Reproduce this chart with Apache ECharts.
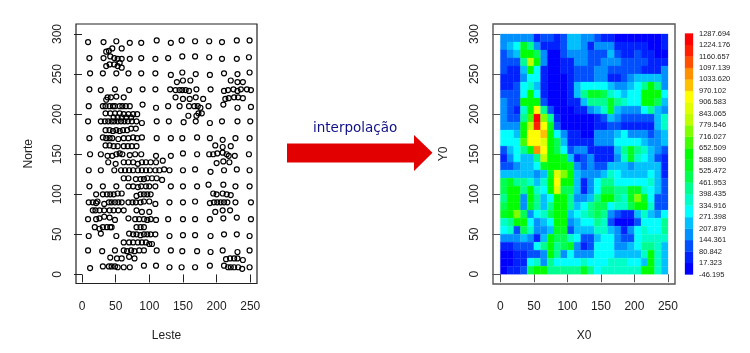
<!DOCTYPE html>
<html>
<head>
<meta charset="utf-8">
<script src="https://cdn.jsdelivr.net/npm/echarts@6/dist/echarts.min.js"></script>
<style>
html, body { margin: 0; padding: 0; background: #fff; }
#chart { width: 750px; height: 353px; }
</style>
</head>
<body>
<div id="chart"></div>
<script>
// pontos amostrados: [leste, norte]
var pontos = [
    [9,290],[32,290],[51,291],[71,289],[88,289],[111,292],[132,289],[148,292],[168,291],[189,291],[208,290],[230,292],[249,292],
    [59,282],[45,282],[40,279],[36,278],
    [11,270],[32,270],[42,272],[48,270],[53,269],[59,269],[56,264],[71,269],[88,270],[109,269],[128,270],[149,272],[168,272],[189,271],[208,269],[230,269],[248,271],
    [36,260],[41,262],[48,262],[53,260],[59,258],
    [12,251],[31,251],[51,251],[69,251],[88,251],[109,251],[132,249],[149,252],[169,250],[190,249],[211,251],[231,250],[249,252],
    [141,240],[150,242],[161,242],[221,242],[231,240],[239,240],
    [11,231],[28,230],[49,231],[70,230],[90,231],[109,231],[131,231],[139,230],[145,230],[149,230],[154,230],[159,229],[170,231],[191,231],[211,229],[217,230],[225,231],[231,229],[236,231],[245,231],[251,230],
    [139,221],[150,219],[160,219],[169,221],[180,219],[213,219],[218,220],[226,221],[232,221],[239,220],
    [36,218],[38,221],[43,221],[51,222],[62,221],
    [10,210],[31,210],[35,210],[41,210],[46,210],[49,210],[56,210],[60,210],[65,210],[71,210],[90,212],[110,208],[128,210],[145,210],[159,210],[167,210],[172,210],[176,208],[188,210],[210,212],[231,208],[251,209],
    [35,201],[42,201],[49,201],[56,201],[62,200],[69,200],[76,200],[82,200],[47,196],[53,196],[59,196],[66,196],[73,196],
    [173,201],[178,201],[158,198],[170,198],
    [9,191],[28,191],[34,191],[39,191],[44,191],[48,191],[53,191],[58,191],[63,191],[68,191],[74,191],[81,191],[89,189],[111,191],[129,191],[151,190],[169,191],[190,189],[208,191],[231,191],[250,191],
    [35,180],[41,180],[46,179],[51,180],[56,179],[61,180],[67,180],[73,182],[80,182],
    [11,170],[31,171],[36,170],[41,170],[45,170],[54,169],[62,170],[69,170],[76,171],[82,170],[89,171],[111,170],[132,170],[149,170],[171,171],[190,170],[209,168],[228,170],[249,170],
    [35,161],[41,161],[47,160],[53,160],[62,160],[68,160],[74,160],[81,160],[198,161],[209,159],[221,160],
    [12,150],[28,150],[38,148],[45,148],[51,150],[56,151],[60,150],[71,149],[79,150],[88,150],[110,148],[132,148],[150,151],[171,150],[189,150],[195,150],[201,151],[209,152],[215,150],[218,148],[227,148],[248,150],
    [39,140],[50,138],[62,140],[69,140],[76,140],[83,138],[89,140],[95,140],[102,140],[110,140],[120,142],[200,139],[210,141],[219,140],
    [10,130],[28,130],[48,130],[58,130],[64,130],[70,130],[76,130],[83,130],[89,130],[95,130],[101,130],[109,130],[115,130],[122,131],[130,130],[150,130],[168,131],[191,128],[211,130],[230,131],[249,130],
    [62,120],[69,120],[80,119],[87,119],[92,119],[97,120],[104,120],[111,120],[119,118],
    [11,110],[31,110],[51,110],[69,110],[76,110],[83,109],[88,110],[95,110],[100,110],[109,110],[132,110],[150,110],[171,110],[188,112],[210,112],[228,110],[249,110],
    [21,100],[31,100],[37,100],[42,100],[47,100],[53,101],[59,101],[81,98],[87,100],[92,100],[97,100],[102,100],[195,101],[200,100],[209,101],[215,100],[221,99],
    [10,90],[16,90],[23,91],[21,89],[33,88],[40,90],[44,90],[49,90],[54,90],[59,90],[69,90],[75,90],[80,90],[87,90],[92,91],[100,91],[109,88],[130,90],[150,90],[168,91],[190,89],[196,90],[201,90],[206,90],[211,90],[216,90],[228,90],[251,90],
    [16,80],[20,80],[26,80],[33,80],[41,80],[47,80],[54,80],[62,80],[81,80],[89,78],[100,78],[198,78],[209,80],[220,80],
    [9,69],[21,69],[26,70],[33,72],[41,71],[49,68],[69,70],[79,69],[85,69],[92,69],[97,68],[102,69],[110,68],[128,69],[150,69],[168,69],[190,69],[210,70],[230,71],[251,69],
    [19,59],[26,57],[31,59],[37,59],[42,59],[44,59],[81,59],[87,59],[92,59],
    [10,48],[28,51],[51,48],[70,51],[76,50],[81,50],[87,49],[92,50],[97,50],[102,50],[109,50],[130,48],[150,49],[168,49],[191,48],[211,50],[230,50],[249,48],
    [62,40],[70,40],[76,40],[83,40],[89,40],[95,40],[100,38],[104,38],
    [9,30],[30,29],[49,30],[62,30],[67,29],[73,30],[78,29],[85,30],[92,30],[111,30],[132,30],[149,29],[171,29],[191,28],[209,30],[231,28],[249,30],
    [42,21],[52,20],[59,20],[70,22],[78,20],[214,19],[220,20],[226,20],[231,20],[239,18],
    [12,8],[31,10],[40,10],[44,10],[49,10],[53,9],[62,9],[71,9],[92,11],[110,11],[130,9],[148,9],[168,9],[190,11],[211,11],[217,9],[221,9],[226,9],[232,9],[238,7],[249,9]
];

// classe da legenda de cada celula, da linha de cima (Y0 290-300) para a de baixo
var faixas = [
    [3,3,3,3,3,1,2,2,1,2,4,4,3,3,2,1,1,0,0,0,0,0,0,0,1],
    [3,4,5,9,7,3,1,1,1,2,4,4,3,1,3,3,3,1,1,1,1,1,0,0,1],
    [2,3,4,10,10,8,3,0,0,2,3,3,3,2,2,2,4,2,1,1,2,1,1,0,0],
    [2,2,2,7,13,10,3,0,0,1,1,3,3,2,2,3,3,3,2,2,2,2,1,1,1],
    [2,1,1,4,10,5,1,0,0,1,1,2,2,2,3,3,2,2,2,2,2,1,1,1,3],
    [1,1,1,3,5,5,1,0,0,0,1,2,2,2,3,3,1,1,2,3,4,4,4,4,3],
    [1,1,2,5,6,4,1,0,0,0,1,4,5,5,5,5,4,3,3,4,5,7,10,7,3],
    [2,2,2,5,10,5,1,0,0,0,1,4,7,9,9,8,6,5,4,5,5,10,10,10,5],
    [3,2,2,10,10,10,2,0,0,0,1,1,4,7,7,7,9,7,6,5,5,10,10,8,4],
    [3,2,1,6,10,15,7,2,0,0,0,1,1,3,4,6,9,4,3,3,3,5,7,4,3],
    [3,2,2,7,11,20,12,7,1,0,0,0,0,0,1,2,4,3,2,2,2,2,2,4,6],
    [3,3,3,10,13,19,15,9,2,0,0,0,0,0,1,1,2,2,1,1,1,1,1,4,6],
    [5,5,4,10,15,15,16,10,5,3,1,1,0,0,3,3,3,4,5,3,3,3,2,3,4],
    [5,5,5,11,15,15,14,10,8,4,1,1,1,1,3,3,3,5,5,5,5,4,3,3,4],
    [2,4,5,7,10,17,15,10,8,5,2,3,3,1,1,1,1,4,7,9,7,6,4,3,2],
    [1,3,5,4,4,7,13,10,10,9,4,1,2,3,1,1,1,3,6,9,6,5,4,2,1],
    [2,2,3,4,4,5,9,10,10,10,9,3,2,3,2,2,4,4,4,3,4,4,4,4,1],
    [4,4,4,4,4,3,4,9,14,12,10,4,3,3,3,4,6,5,4,4,4,4,5,4,1],
    [8,9,7,7,6,4,6,10,15,10,10,4,1,3,5,7,7,5,5,5,5,5,6,4,2],
    [8,10,10,7,10,6,5,10,14,8,8,4,1,3,5,8,8,7,7,9,9,6,5,4,2],
    [7,10,10,3,10,7,4,5,10,10,7,3,3,4,7,10,10,7,6,9,12,9,5,2,2],
    [8,10,10,3,9,7,4,7,10,10,7,4,5,7,8,8,5,6,6,8,10,10,6,2,2],
    [9,10,12,8,3,5,6,8,10,10,4,5,6,7,8,7,3,2,1,1,4,6,4,3,5],
    [6,7,10,10,5,3,4,5,10,10,3,4,5,5,7,6,2,0,0,0,2,5,5,5,7],
    [5,6,2,8,6,3,3,4,9,9,2,4,4,4,6,6,4,3,1,3,5,6,5,5,7],
    [3,3,3,4,3,1,4,10,8,8,6,5,2,2,4,5,5,3,2,2,5,6,6,6,6],
    [1,1,2,2,2,5,7,10,7,8,9,3,1,2,5,5,5,3,3,4,5,7,7,6,4],
    [0,0,1,1,2,2,3,10,7,3,5,3,3,3,5,5,5,4,4,4,4,6,10,6,4],
    [0,0,1,1,5,6,3,7,5,5,5,5,6,5,5,5,6,6,6,5,5,4,10,6,4],
    [0,1,1,2,8,10,10,7,7,7,7,7,9,7,5,6,6,6,6,6,6,10,10,6,4]
];

// limites da legenda, de baixo para cima
var limites = [-46.195,17.323,80.842,144.361,207.879,271.398,334.916,398.435,461.953,525.472,588.990,652.509,716.027,779.546,843.065,906.583,970.102,1033.620,1097.139,1160.657,1224.176,1287.694];
var cores = ['#0000ff','#0022ff','#0050ff','#0090ff','#00c0ff','#00ffff','#00ffc8','#00ff90','#00ff50','#00ff20','#00ff00','#40ff00','#80ff00','#bfff00','#e0ff00','#ffff00','#ffc000','#ff9000','#ff5000','#ff2000','#ff0000'];

var ticksLeste = [0,50,100,150,200,250];
var ticksNorte = [0,50,100,150,200,250,300];

var dadosGrade = [];
for (var i = 0; i < faixas.length; i++) {
    for (var j = 0; j < faixas[i].length; j++) {
        dadosGrade.push([j * 10, (faixas.length - 1 - i) * 10, faixas[i][j]]);
    }
}
var dadosLegenda = [];
for (var k = 0; k < cores.length; k++) {
    dadosLegenda.push([limites[k], limites[k + 1], k]);
}

function eixo(grade, nome, ticks, min, max, vertical, corTick, gap) {
    return {
        gridIndex: grade,
        type: 'value', name: nome, nameLocation: 'middle', nameGap: gap,
        nameRotate: vertical ? 90 : 0,
        nameTextStyle: { color: '#222', fontSize: 12, fontFamily: 'Liberation Sans' },
        min: min, max: max, splitLine: { show: false }, axisLine: { show: false },
        axisTick: { length: 8, customValues: ticks, lineStyle: { color: corTick, width: 1 } },
        axisLabel: {
            customValues: ticks, rotate: vertical ? 90 : 0, margin: vertical ? 12 : 17,
            color: '#222', fontSize: 12, fontFamily: 'Liberation Sans'
        }
    };
}

var chart = echarts.init(document.getElementById('chart'), null, { renderer: 'canvas' });
chart.setOption({
    animation: false,
    backgroundColor: '#fff',
    grid: [
        { left: 76, top: 24, width: 181, height: 259.5, show: true, borderColor: '#222', borderWidth: 1.2, backgroundColor: '#fff' },
        { left: 493, top: 24, width: 182, height: 260, show: true, borderColor: '#555', borderWidth: 1.4, backgroundColor: '#fff' },
        { left: 685, top: 33.5, width: 8, height: 241 }
    ],
    xAxis: [
        eixo(0, 'Leste', ticksLeste, -8.9, 260, false, '#222', 46),
        eixo(1, 'X0', ticksLeste, -11, 260.5, false, '#555', 46),
        { gridIndex: 2, type: 'value', min: 0, max: 1, show: false }
    ],
    yAxis: [
        eixo(0, 'Norte', ticksNorte, -11.3, 312.5, true, '#222', 41),
        eixo(1, 'Y0', ticksNorte, -12.2, 312.5, true, '#555', 43),
        {
            gridIndex: 2, type: 'value', position: 'right', min: limites[0], max: limites[limites.length - 1],
            splitLine: { show: false }, axisLine: { show: false }, axisTick: { show: false },
            axisLabel: {
                customValues: limites, margin: 6, color: '#222', fontSize: 7.5, fontFamily: 'Liberation Sans',
                formatter: function (v) { return v.toFixed(3); }
            }
        }
    ],
    series: [
        {
            type: 'scatter', xAxisIndex: 0, yAxisIndex: 0, data: pontos,
            symbol: 'circle', symbolSize: 5,
            itemStyle: { color: 'transparent', borderColor: '#000', borderWidth: 1.2, opacity: 1 }
        },
        {
            type: 'custom', xAxisIndex: 1, yAxisIndex: 1, data: dadosGrade,
            encode: { x: 0, y: 1 },
            renderItem: function (params, api) {
                var p0 = api.coord([api.value(0), api.value(1)]);
                var p1 = api.coord([api.value(0) + 10, api.value(1) + 10]);
                var cor = cores[api.value(2)];
                return {
                    type: 'rect',
                    shape: { x: p0[0], y: p1[1], width: p1[0] - p0[0], height: p0[1] - p1[1] },
                    style: { fill: cor, stroke: cor, lineWidth: 0.3 }
                };
            }
        },
        {
            type: 'custom', xAxisIndex: 2, yAxisIndex: 2, data: dadosLegenda,
            encode: { y: [0, 1] },
            renderItem: function (params, api) {
                var p0 = api.coord([0, api.value(0)]);
                var p1 = api.coord([1, api.value(1)]);
                var cor = cores[api.value(2)];
                return {
                    type: 'rect',
                    shape: { x: p0[0], y: p1[1], width: p1[0] - p0[0], height: p0[1] - p1[1] },
                    style: { fill: cor, stroke: cor, lineWidth: 0.3 }
                };
            }
        }
    ],
    graphic: [
        {
            type: 'polygon',
            shape: { points: [[287,143.5],[414,143.5],[414,135],[432.5,152.8],[414,171],[414,162.5],[287,162.5]] },
            style: { fill: '#e20000' }
        },
        {
            type: 'text', left: 313, top: 121,
            style: { text: 'interpolação', fill: '#101088', font: '13.5px "DejaVu Sans"' }
        }
    ]
});
</script>
</body>
</html>
